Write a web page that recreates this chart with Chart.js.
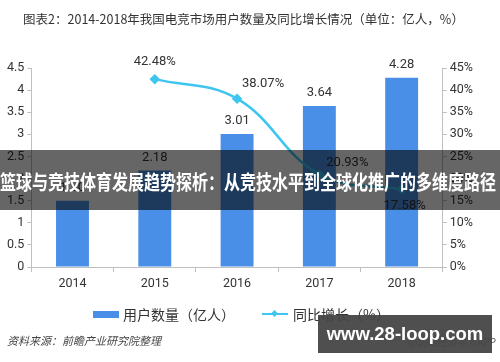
<!DOCTYPE html>
<html>
<head>
<meta charset="utf-8">
<script src="https://cdn.jsdelivr.net/npm/chart.js@4/dist/chart.umd.min.js"></script>
<style>
    body { margin: 0; background: #fff; font-family: "Noto Sans CJK SC", sans-serif; }
    #wrap { position: relative; width: 500px; height: 362px; overflow: hidden; }
    #chart { position: absolute; left: 0; top: 0; }
    .title { position: absolute; left: 0; width: 487px; top: 9px; text-align: center; font-size: 12.5px; color: #333; }
    .legend { position: absolute; top: 302px; left: 93px; font-size: 14px; color: #333; white-space: nowrap; }
    .legend span { display: inline-block; vertical-align: middle; }
    .swatch-bar { width: 26px; height: 7px; background: #4a8fe7; margin-right: 4px; }
    .swatch-line { width: 26px; height: 2px; background: #3ec6f0; margin-left: 27px; margin-right: 5px; position: relative; }
    .swatch-line i { position: absolute; left: 10px; top: -2px; width: 5px; height: 5px; background: #3ec6f0; transform: rotate(45deg); }
    .source { position: absolute; left: 7px; top: 332px; font-size: 11px; font-style: italic; color: #444; }
    .app { position: absolute; left: 408px; top: 334px; font-size: 10px; color: #555; }
    .banner { position: absolute; left: 0; top: 150px; width: 500px; height: 60px; background: rgba(0,0,0,0.6); }
    .banner div { position: absolute; left: 0; top: 17px; width: 625px; font-size: 20px; font-weight: bold; color: #fff; white-space: nowrap; transform: scaleX(0.8); transform-origin: 0 0; }
    .mark { position: absolute; left: 318px; top: 315px; width: 174px; height: 38px; background: rgba(70,70,70,0.95); color: #fff; font-family: "Liberation Sans", sans-serif; font-weight: bold; font-size: 18.5px; line-height: 38px; text-align: center; }
</style>
</head>
<body>
<div id="wrap">
    <canvas id="chart" width="500" height="362"></canvas>
    <div class="title">图表2：2014-2018年我国电竞市场用户数量及同比增长情况（单位：亿人，%）</div>
    <div class="legend">
        <span class="swatch-bar"></span><span>用户数量（亿人）</span><span class="swatch-line"><i></i></span><span>同比增长（%）</span>
    </div>
    <div class="source">资料来源：前瞻产业研究院整理</div>
    <div class="app">@前瞻经济学人APP</div>
    <div class="banner"><div>篮球与竞技体育发展趋势探析：从竞技水平到全球化推广的多维度路径</div></div>
    <div class="mark">www.28-loop.com</div>
</div>
<script>
var years = ['2014', '2015', '2016', '2017', '2018'];
var users = [1.5, 2.18, 3.01, 3.64, 4.28];
var growth = [null, 42.48, 38.07, 20.93, 17.58];

var barColor = '#4a8fe7';
var lineColor = '#3ec6f0';
var tickFont = { family: 'Roboto, "Noto Sans", sans-serif', size: 12.5 };

// label offsets for the growth line: [dx, dy]
var lineLabelShift = [null, [0, -17], [26, -15], [28, -12], [3, 16]];

var valueLabels = {
    id: 'valueLabels',
    afterDatasetsDraw: function (chart) {
        var ctx = chart.ctx;
        ctx.save();
        ctx.font = '13px Roboto, "Noto Sans", sans-serif';
        ctx.fillStyle = '#333';
        ctx.textAlign = 'center';
        ctx.textBaseline = 'middle';
        chart.getDatasetMeta(1).data.forEach(function (bar, i) {
            ctx.fillText(users[i].toFixed(2), bar.x, bar.y - 13);
        });
        chart.getDatasetMeta(0).data.forEach(function (pt, i) {
            if (growth[i] === null) return;
            var s = lineLabelShift[i];
            ctx.fillText(growth[i].toFixed(2) + '%', pt.x + s[0], pt.y + s[1]);
        });
        ctx.restore();
    }
};

new Chart(document.getElementById('chart'), {
    data: {
        labels: years,
        datasets: [{
            type: 'line',
            label: '同比增长（%）',
            data: growth,
            yAxisID: 'y1',
            borderColor: lineColor,
            backgroundColor: lineColor,
            borderWidth: 2.5,
            tension: 0.4,
            pointStyle: 'rectRot',
            pointRadius: 3.5,
            order: 0
        }, {
            type: 'bar',
            label: '用户数量（亿人）',
            data: users,
            yAxisID: 'y',
            backgroundColor: barColor,
            categoryPercentage: 0.4,
            barPercentage: 1,
            order: 1
        }]
    },
    options: {
        responsive: false,
        animation: false,
        layout: { padding: { top: 68, bottom: 67, left: 4, right: 24 } },
        plugins: {
            legend: { display: false },
            tooltip: { enabled: false }
        },
        scales: {
            x: {
                offset: true,
                grid: { display: true, drawOnChartArea: false, offset: true, tickLength: 5, color: '#bfbfbf' },
                border: { color: '#bfbfbf' },
                ticks: { color: '#333', font: tickFont, padding: 4 }
            },
            y: {
                position: 'left',
                min: 0,
                max: 4.5,
                ticks: { stepSize: 0.5, color: '#333', font: tickFont, padding: 3, callback: function (v) { return String(v); } },
                grid: { drawOnChartArea: false, tickLength: 4, color: '#bfbfbf' },
                border: { color: '#bfbfbf' }
            },
            y1: {
                position: 'right',
                min: 0,
                max: 45,
                ticks: { stepSize: 5, color: '#333', font: tickFont, padding: 3, callback: function (v) { return v + '%'; } },
                grid: { drawOnChartArea: false, tickLength: 4, color: '#bfbfbf' },
                border: { color: '#bfbfbf' }
            }
        }
    },
    plugins: [valueLabels]
});
</script>
</body>
</html>
